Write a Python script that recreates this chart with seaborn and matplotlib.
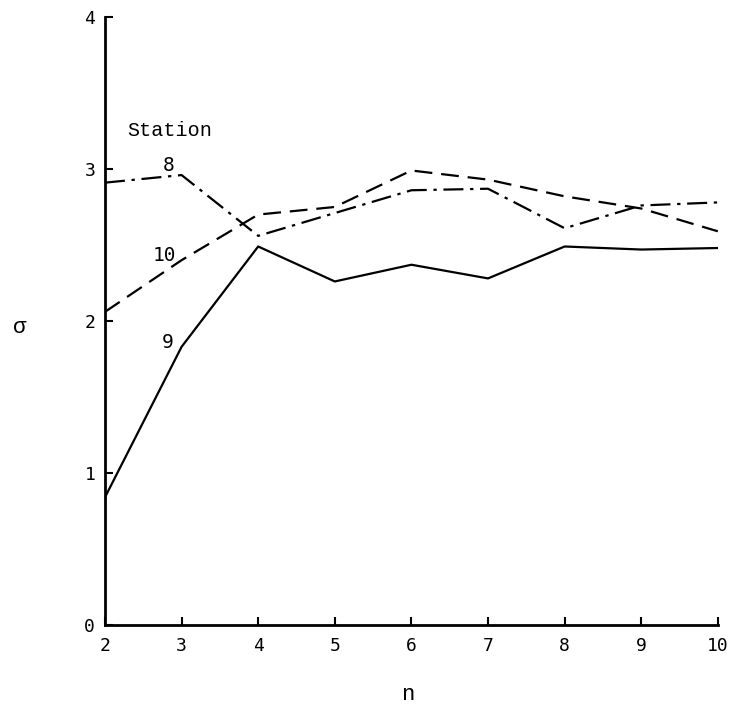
import pandas as pd
import matplotlib.pyplot as plt
import seaborn as sns

# values
n = [2, 3, 4, 5, 6, 7, 8, 9, 10]
station_8 = [2.91, 2.96, 2.56, 2.71, 2.86, 2.87, 2.61, 2.76, 2.78]
station_9 = [0.84, 1.83, 2.49, 2.26, 2.37, 2.28, 2.49, 2.47, 2.48]
station_10 = [2.06, 2.40, 2.70, 2.75, 2.99, 2.93, 2.82, 2.74, 2.59]

df = pd.DataFrame({"n": n, "8": station_8, "9": station_9, "10": station_10})

sns.set_style("ticks", {"axes.edgecolor": "black", "text.color": "black",
                        "xtick.color": "black", "ytick.color": "black",
                        "axes.labelcolor": "black"})
plt.rcParams["font.family"] = ["Liberation Mono", "DejaVu Sans"]
digits = "DejaVu Sans Mono"

fig = plt.figure(figsize=(7.31, 7.07), dpi=100)
ax = fig.add_axes([0.1436, 0.116, 0.8384, 0.86])

sns.lineplot(data=df, x="n", y="9", color="black", linewidth=1.6, ax=ax)
sns.lineplot(data=df, x="n", y="8", color="black", linewidth=1.6,
             ax=ax).lines[-1].set_dashes([9, 3, 1.5, 3])
sns.lineplot(data=df, x="n", y="10", color="black", linewidth=1.6,
             ax=ax).lines[-1].set_dashes([8, 4])

# station labels
ax.text(2.29, 3.25, "Station", fontsize=14.5, va="center")
ax.text(2.83, 3.02, "8", fontsize=14, ha="center", va="center", fontfamily=digits)
ax.text(2.78, 2.43, "10", fontsize=14, ha="center", va="center", fontfamily=digits)
ax.text(2.82, 1.86, "9", fontsize=14, ha="center", va="center", fontfamily=digits)

ax.set_xlim(2, 10)
ax.set_ylim(0, 4)
ax.set_xticks(range(2, 11))
ax.set_yticks([0, 1, 2, 3, 4])
ax.tick_params(direction="in", length=6, width=1.5, labelsize=13)
ax.tick_params(axis="x", pad=9)
ax.tick_params(axis="y", pad=7)
plt.setp(ax.get_xticklabels() + ax.get_yticklabels(), fontfamily=digits)
for s in ["left", "bottom"]:
    ax.spines[s].set_linewidth(2)
sns.despine(ax=ax)

ax.set_xlabel("n", fontsize=16, va="center")
ax.xaxis.set_label_coords(0.494, -0.115)
ax.set_ylabel("σ", fontsize=16, rotation=0, ha="center", va="center")
ax.yaxis.set_label_coords(-0.139, 0.49)

fig.savefig("out.png", dpi=100)
